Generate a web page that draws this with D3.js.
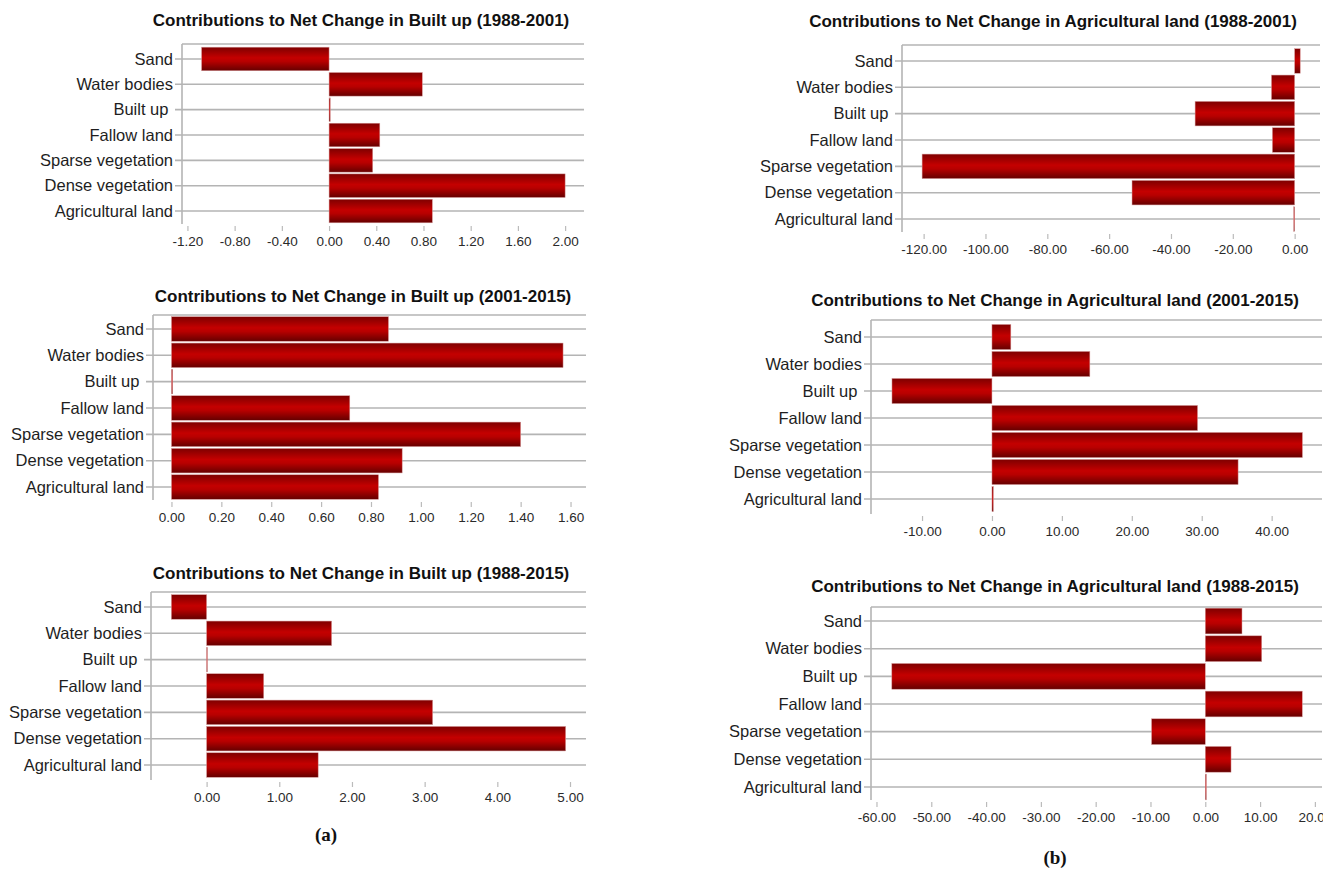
<!DOCTYPE html>
<html>
<head>
<meta charset="utf-8">
<script src="https://cdn.jsdelivr.net/npm/d3@7"></script>
<style>
  html, body { margin: 0; padding: 0; background: #fff; }
  svg { display: block; }
</style>
</head>
<body>
<svg id="chart" width="1338" height="872"></svg>
<script>
// Land-cover classes, listed top to bottom in every panel
const categories = ["Sand", "Water bodies", "Built up ", "Fallow land", "Sparse vegetation", "Dense vegetation", "Agricultural land"];

// Contributions to net change (per class)
const builtUp19882001 = [-1.08, 0.79, 0.01, 0.43, 0.37, 2.00, 0.875];
const builtUp20012015 = [0.87, 1.57, 0.005, 0.715, 1.40, 0.925, 0.83];
const builtUp19882015 = [-0.485, 1.72, 0.01, 0.786, 3.11, 4.94, 1.535];
const agri19882001 = [1.8, -7.5, -32.2, -7.2, -120.5, -52.6, -0.3];
const agri20012015 = [2.7, 14.0, -14.3, 29.4, 44.4, 35.2, 0.2];
const agri19882015 = [6.7, 10.3, -57.2, 17.7, -9.8, 4.7, 0.2];

// Axis tick values
const ticksBU1 = [-1.2, -0.8, -0.4, 0, 0.4, 0.8, 1.2, 1.6, 2.0];
const ticksBU2 = [0, 0.2, 0.4, 0.6, 0.8, 1.0, 1.2, 1.4, 1.6];
const ticksBU3 = [0, 1, 2, 3, 4, 5];
const ticksAG1 = [-120, -100, -80, -60, -40, -20, 0];
const ticksAG2 = [-10, 0, 10, 20, 30, 40];
const ticksAG3 = [-60, -50, -40, -30, -20, -10, 0, 10, 20];

// Panel titles
const titles = [
  "Contributions to Net Change in Built up (1988-2001)",
  "Contributions to Net Change in Agricultural land (1988-2001)",
  "Contributions to Net Change in Built up (2001-2015)",
  "Contributions to Net Change in Agricultural land (2001-2015)",
  "Contributions to Net Change in Built up (1988-2015)",
  "Contributions to Net Change in Agricultural land (1988-2015)"
];

const panels = [
  { values: builtUp19882001, ticks: ticksBU1, title: titles[0], domain: [-1.246, 2.16],
    x0: 182, x1: 584, top: 44, bottom: 222, bandTop: 46.3, bandBottom: 223.7, titleX: 361, titleY: 20 },
  { values: agri19882001, ticks: ticksAG1, title: titles[1], domain: [-127.0, 8.2],
    x0: 902, x1: 1320, top: 45, bottom: 230, bandTop: 47.8, bandBottom: 232.2, titleX: 1053, titleY: 21 },
  { values: builtUp20012015, ticks: ticksBU2, title: titles[2], domain: [-0.074, 1.662],
    x0: 153, x1: 586, top: 315, bottom: 498, bandTop: 315.8, bandBottom: 500.2, titleX: 363, titleY: 296 },
  { values: agri20012015, ticks: ticksAG2, title: titles[3], domain: [-17.3, 47.2],
    x0: 871, x1: 1322, top: 320, bottom: 512, bandTop: 323.5, bandBottom: 512.5, titleX: 1055, titleY: 300 },
  { values: builtUp19882015, ticks: ticksBU3, title: titles[4], domain: [-0.765, 5.22],
    x0: 151, x1: 586, top: 592, bottom: 778, bandTop: 593.8, bandBottom: 778.2, titleX: 361, titleY: 573 },
  { values: agri19882015, ticks: ticksAG3, title: titles[5], domain: [-61.0, 21.3],
    x0: 871, x1: 1322, top: 607, bottom: 798, bandTop: 607.2, bandBottom: 800.8, titleX: 1055, titleY: 586, clip: true }
];

const sansFont = "\"Liberation Sans\", Arial, sans-serif";
const serifFont = "\"Liberation Serif\", \"Times New Roman\", serif";

const svg = d3.select("#chart");
const defs = svg.append("defs");

// Cylinder-like shading of the bars
const grad = defs.append("linearGradient")
  .attr("id", "barShade").attr("x1", 0).attr("y1", 0).attr("x2", 0).attr("y2", 1);
grad.append("stop").attr("offset", "0%").attr("stop-color", "#7e0000");
grad.append("stop").attr("offset", "45%").attr("stop-color", "#c40000");
grad.append("stop").attr("offset", "60%").attr("stop-color", "#b80000");
grad.append("stop").attr("offset", "100%").attr("stop-color", "#650000");

defs.append("clipPath").attr("id", "pageClip")
  .append("rect").attr("x", 0).attr("y", 0).attr("width", 1323).attr("height", 872);

const gridColor = "#b4b4b4";
const fmt = v => v.toFixed(2);

panels.forEach((p, i) => {
  const g = svg.append("g").attr("class", "panel-" + i).style("font-family", sansFont);

  const x = d3.scaleLinear().domain(p.domain).range([p.x0, p.x1]);
  const y = d3.scaleBand().domain(categories).range([p.bandTop, p.bandBottom]).paddingInner(0.07).paddingOuter(0.035);

  // Title
  g.append("text")
    .attr("x", p.titleX).attr("y", p.titleY)
    .attr("text-anchor", "middle").attr("dominant-baseline", "central")
    .attr("font-size", "17px").attr("font-weight", "bold").attr("fill", "#111")
    .text(p.title);

  // Frame: top border and vertical axis
  g.append("line")
    .attr("x1", p.x0).attr("x2", p.x1).attr("y1", p.top).attr("y2", p.top)
    .attr("stroke", gridColor).attr("stroke-width", 1.6);
  g.append("line")
    .attr("x1", p.x0).attr("x2", p.x0).attr("y1", p.top).attr("y2", p.bottom + 2)
    .attr("stroke", gridColor).attr("stroke-width", 1.6);

  // Horizontal grid lines through each category (with a short tick left of the axis)
  g.selectAll(".grid").data(categories).join("line")
    .attr("class", "grid")
    .attr("x1", p.x0 - 7).attr("x2", p.x1)
    .attr("y1", d => y(d) + y.bandwidth() / 2).attr("y2", d => y(d) + y.bandwidth() / 2)
    .attr("stroke", gridColor).attr("stroke-width", 1.6);

  // Category labels
  g.selectAll(".cat").data(categories).join("text")
    .attr("class", "cat")
    .attr("x", p.x0 - 9)
    .attr("y", d => y(d) + y.bandwidth() / 2)
    .attr("dy", "0.35em")
    .attr("text-anchor", "end")
    .attr("font-size", "16.5px").attr("fill", "#1e1e1e")
    .style("white-space", "pre")
    .text(d => d);

  // Bars
  g.selectAll(".bar").data(p.values).join("rect")
    .attr("class", "bar")
    .attr("x", d => x(Math.min(0, d)))
    .attr("width", d => Math.max(0.8, Math.abs(x(d) - x(0))))
    .attr("y", (d, j) => y(categories[j]))
    .attr("height", y.bandwidth())
    .attr("fill", "url(#barShade)")
    .attr("stroke", "#d89a9a").attr("stroke-width", 0.5);

  // Bottom axis (ticks + labels only)
  const axis = d3.axisBottom(x).tickValues(p.ticks).tickFormat(fmt).tickSize(5).tickPadding(5);
  const ax = g.append("g")
    .attr("transform", `translate(0,${p.bottom + 4})`)
    .call(axis);
  ax.attr("font-family", null).attr("font-size", null);
  ax.select(".domain").remove();
  ax.selectAll(".tick line").attr("stroke", "#bbbbbb").attr("stroke-width", 1.2);
  ax.selectAll(".tick text")
    .style("font-family", sansFont).style("font-size", "13.5px").attr("fill", "#2a2a2a");
  if (p.clip) ax.attr("clip-path", "url(#pageClip)");
});

// Sub-figure captions
svg.append("text").attr("x", 326).attr("y", 834)
  .attr("text-anchor", "middle").attr("dominant-baseline", "central")
  .style("font-family", serifFont)
  .attr("font-weight", "bold").attr("font-size", "19px").attr("fill", "#111")
  .text("(a)");
svg.append("text").attr("x", 1055).attr("y", 857)
  .attr("text-anchor", "middle").attr("dominant-baseline", "central")
  .style("font-family", serifFont)
  .attr("font-weight", "bold").attr("font-size", "19px").attr("fill", "#111")
  .text("(b)");
</script>
</body>
</html>
